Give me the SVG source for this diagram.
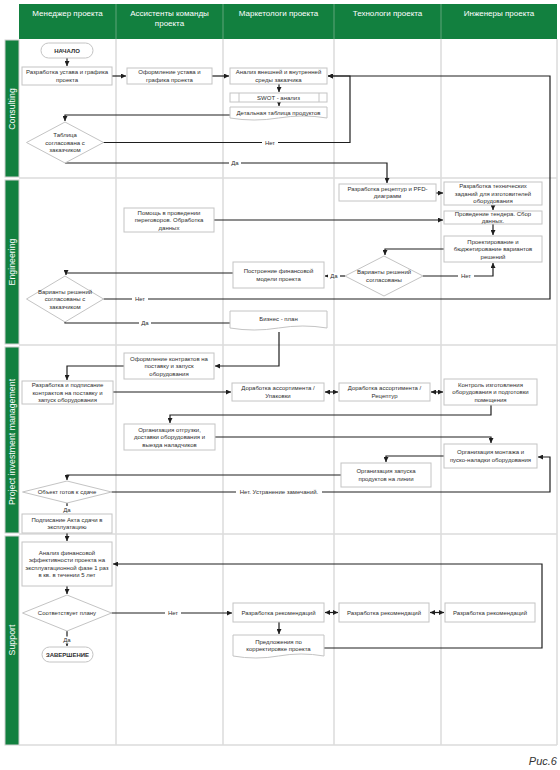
<svg xmlns="http://www.w3.org/2000/svg" width="560" height="770" viewBox="0 0 560 770">
<style>
.bg{fill:#fff}
.hdr{fill:#12803f}
.ht{font-family:"Liberation Sans",Arial,sans-serif;font-size:8px;fill:#fff;text-anchor:middle}
.lane{fill:#12803f;stroke:#d0d0d0;stroke-width:1}
.lt{font-family:"Liberation Sans",Arial,sans-serif;font-size:8.8px;fill:#fff;text-anchor:middle}
.grid{stroke:#dcdcdc;stroke-width:1.5;fill:none}
.box{fill:#fff;stroke:#c4c4c4;stroke-width:1}
.t{font-family:"Liberation Sans",Arial,sans-serif;font-size:6px;fill:#2e2e2e;text-anchor:middle}
.tb{font-weight:bold}
.c{fill:none;stroke:#1e1e1e;stroke-width:1.2;marker-end:url(#a)}
.cn{fill:none;stroke:#1e1e1e;stroke-width:1.2}
.cd{fill:none;stroke:#1e1e1e;stroke-width:1.2;marker-end:url(#a);marker-start:url(#a)}
.lb{fill:#fff}
.l{font-family:"Liberation Sans",Arial,sans-serif;font-size:6px;fill:#2e2e2e;text-anchor:middle}
</style>
<defs>
<marker id="a" viewBox="0 0 6 6" refX="6" refY="3" markerWidth="5" markerHeight="5" markerUnits="userSpaceOnUse" orient="auto-start-reverse"><path d="M0,0 L6,3 L0,6 z" fill="#1e1e1e"/></marker>
</defs>
<rect class="bg" x="0" y="0" width="560" height="770"/>

<g id="header">
<rect class="hdr" x="19" y="4" width="538" height="35"/>
<g stroke="#5fa47a" stroke-width="1"><line x1="116" y1="4" x2="116" y2="39"/><line x1="223" y1="4" x2="223" y2="39"/><line x1="334" y1="4" x2="334" y2="39"/><line x1="441" y1="4" x2="441" y2="39"/></g>
<text class="ht" x="67.5" y="16">Менеджер проекта</text>
<text class="ht" x="169.5" y="16">Ассистенты команды</text>
<text class="ht" x="169.5" y="26">проекта</text>
<text class="ht" x="278.5" y="16">Маркетологи проекта</text>
<text class="ht" x="387.5" y="16">Технологи проекта</text>
<text class="ht" x="499" y="16">Инженеры проекта</text>
</g>

<g id="lanes">
<rect class="lane" x="5" y="40" width="14" height="137"/>
<rect class="lane" x="5" y="180" width="14" height="164"/>
<rect class="lane" x="5" y="347" width="14" height="186"/>
<rect class="lane" x="5" y="536" width="14" height="209"/>
<text class="lt" transform="translate(15,109) rotate(-90)">Consulting</text>
<text class="lt" transform="translate(15,262) rotate(-90)">Engineering</text>
<text class="lt" transform="translate(15,442) rotate(-90)">Project investment management</text>
<text class="lt" transform="translate(15,640) rotate(-90)">Support</text>
<path class="grid" d="M116,39V745M223,39V745M334,39V745M441,39V745M557,39V745M19,178H557M19,345H557M19,534H557M19,745H557"/>
</g>

<g id="connectors">
<path class="c" d="M67,58V66"/>
<path class="c" d="M112,76H126"/>
<path class="c" d="M212,76H229"/>
<path class="c" d="M279,84V92"/>
<path class="c" d="M279,102V106"/>
<path class="c" d="M230,115H65V121"/>
<path class="c" d="M103,142.5H350V76H328"/>
<path class="c" d="M65,163H387V183"/>
<path class="c" d="M436,193H443"/>
<path class="c" d="M493,205V210"/>
<path class="c" d="M493,224V235"/>
<path class="c" d="M214,220H443"/>
<path class="c" d="M444,249H385V255"/>
<path class="c" d="M423,276H493V263"/>
<path class="c" d="M345,276H325"/>
<path class="c" d="M233,273H66V275"/>
<path class="c" d="M103.5,299H550V76H328"/>
<path class="cn" d="M65,322V323H230"/>
<path class="c" d="M279,332V366H215"/>
<path class="c" d="M124,366H67V380"/>
<path class="c" d="M113,392H231"/>
<path class="cd" d="M325,392H338"/>
<path class="cd" d="M431,392H443"/>
<path class="c" d="M491,405V415H170V423"/>
<path class="c" d="M215,437H491V443"/>
<path class="c" d="M444,456H386V462"/>
<path class="c" d="M341,475H67V480"/>
<path class="c" d="M111.5,492H550V457H538"/>
<path class="c" d="M67,503V513"/>
<path class="c" d="M67,533V541"/>
<path class="c" d="M67,586V594"/>
<path class="c" d="M111.5,613H232"/>
<path class="cd" d="M325,612.5H338"/>
<path class="cd" d="M430,612.5H444"/>
<path class="c" d="M279,622V634"/>
<path class="c" d="M324,648H542V564H113"/>
<path class="c" d="M67,631V646"/>
<rect class="lb" x="262" y="139" width="16" height="7"/><text class="l" x="270" y="144.5">Нет</text>
<rect class="lb" x="229" y="159.5" width="12" height="7"/><text class="l" x="235" y="165">Да</text>
<rect class="lb" x="132" y="295.5" width="16" height="7"/><text class="l" x="140" y="301">Нет</text>
<rect class="lb" x="139" y="319.5" width="12" height="7"/><text class="l" x="145" y="325">Да</text>
<rect class="lb" x="328" y="272.5" width="12" height="7"/><text class="l" x="334" y="278">Да</text>
<rect class="lb" x="458" y="272.5" width="16" height="7"/><text class="l" x="466" y="278">Нет</text>
<rect class="lb" x="236" y="488.5" width="86" height="7"/><text class="l" x="279" y="494">Нет. Устранение замечаний.</text>
<rect class="lb" x="61" y="506" width="12" height="7"/><text class="l" x="67" y="511.5">Да</text>
<rect class="lb" x="165" y="609.5" width="16" height="7"/><text class="l" x="173" y="615">Нет</text>
<rect class="lb" x="61" y="636.5" width="12" height="7"/><text class="l" x="67" y="642">Да</text>
</g>

<g id="start"><rect class="box" x="41" y="43" width="52" height="15" rx="7.5"/><text class="t tb" x="67" y="52.8">НАЧАЛО</text></g>
<g id="ustav"><rect class="box" x="22" y="67" width="90" height="18"/><text class="t" x="67" y="74.3">Разработка устава и графика</text><text class="t" x="67" y="81.8">проекта</text></g>
<g id="oform"><rect class="box" x="127" y="68" width="85" height="16"/><text class="t" x="169.5" y="74.3">Оформление устава и</text><text class="t" x="169.5" y="81.8">графика проекта</text></g>
<g id="analiz"><rect class="box" x="230" y="68" width="97" height="16"/><text class="t" x="278.5" y="74.3">Анализ внешней и внутренней</text><text class="t" x="278.5" y="81.8">среды заказчика</text></g>
<g id="swot"><rect class="box" x="230" y="93" width="97" height="9"/><path class="box" d="M239,93V102M319,93V102"/><text class="t" x="278.5" y="99.7">SWOT - анализ</text></g>
<g id="detal"><path class="box" d="M230,107H327V118Q303,114 278.5,118Q254,122 230,118Z"/><text class="t" x="278.5" y="114.5">Детальная таблица продуктов</text></g>
<g id="tabl"><path class="box" d="M65,122L103.5,142.5L65,163L26.5,142.5Z"/><text class="t" x="65" y="137">Таблица</text><text class="t" x="65" y="144.5">согласована с</text><text class="t" x="65" y="152">заказчиком</text></g>

<g id="recept"><rect class="box" x="339" y="184" width="97" height="17"/><text class="t" x="387.5" y="190.8">Разработка рецептур и PFD-</text><text class="t" x="387.5" y="198.3">диаграмм</text></g>
<g id="tz"><rect class="box" x="444" y="182" width="98" height="23"/><text class="t" x="493" y="188">Разработка технических</text><text class="t" x="493" y="195.5">заданий для изготовителей</text><text class="t" x="493" y="203">оборудования</text></g>
<g id="tender"><rect class="box" x="444" y="211" width="98" height="13"/><text class="t" x="493" y="216.2">Проведение тендера. Сбор</text><text class="t" x="493" y="222.8">данных.</text></g>
<g id="proekt"><rect class="box" x="444" y="236" width="98" height="26"/><text class="t" x="493" y="243.5">Проектирование и</text><text class="t" x="493" y="251">бюджетирование вариантов</text><text class="t" x="493" y="258.5">решений</text></g>
<g id="pomosh"><rect class="box" x="124" y="208" width="90" height="24"/><text class="t" x="169" y="214.5">Помощь в проведении</text><text class="t" x="169" y="222">переговоров. Обработка</text><text class="t" x="169" y="229.5">данных</text></g>
<g id="var1"><path class="box" d="M384,256L423,276L384,296L345,276Z"/><text class="t" x="384" y="274.3">Варианты решений</text><text class="t" x="384" y="281.8">согласованы</text></g>
<g id="fin"><rect class="box" x="233" y="262" width="91" height="26"/><text class="t" x="278.5" y="273.3">Построение финансовой</text><text class="t" x="278.5" y="280.8">модели проекта</text></g>
<g id="var2"><path class="box" d="M65,276L103.5,299L65,322L26.5,299Z"/><text class="t" x="65" y="293.5">Варианты решений</text><text class="t" x="65" y="301">согласованы с</text><text class="t" x="65" y="308.5">заказчиком</text></g>
<g id="biz"><path class="box" d="M230,311H327V328Q303,324 278.5,328Q254,332 230,328Z"/><text class="t" x="278.5" y="321">Бизнес - план</text></g>

<g id="kontr"><rect class="box" x="124" y="353" width="90" height="26"/><text class="t" x="169" y="360.5">Оформление контрактов на</text><text class="t" x="169" y="368">поставку и запуск</text><text class="t" x="169" y="375.5">оборудования</text></g>
<g id="podp"><rect class="box" x="22" y="381" width="91" height="23"/><text class="t" x="67.5" y="387">Разработка и подписание</text><text class="t" x="67.5" y="394.5">контрактов на поставку и</text><text class="t" x="67.5" y="402">запуск оборудования</text></g>
<g id="upak"><rect class="box" x="232" y="383" width="92" height="18"/><text class="t" x="278" y="390.3">Доработка ассортимента /</text><text class="t" x="278" y="397.8">Упаковки</text></g>
<g id="recep2"><rect class="box" x="339" y="383" width="91" height="18"/><text class="t" x="384.5" y="390.3">Доработка ассортимента /</text><text class="t" x="384.5" y="397.8">Рецептур</text></g>
<g id="control"><rect class="box" x="444" y="379" width="93" height="26"/><text class="t" x="490.5" y="386.5">Контроль изготовления</text><text class="t" x="490.5" y="394">оборудования и подготовки</text><text class="t" x="490.5" y="401.5">помещения</text></g>
<g id="otgr"><rect class="box" x="124" y="424" width="91" height="26"/><text class="t" x="169.5" y="431.5">Организация отгрузки,</text><text class="t" x="169.5" y="439">доставки оборудования и</text><text class="t" x="169.5" y="446.5">выезда наладчиков</text></g>
<g id="montazh"><rect class="box" x="444" y="444" width="93" height="24"/><text class="t" x="490.5" y="454.3">Организация монтажа и</text><text class="t" x="490.5" y="461.8">пуско-наладки оборудования</text></g>
<g id="zapusk"><rect class="box" x="341" y="463" width="90" height="24"/><text class="t" x="386" y="473.3">Организация запуска</text><text class="t" x="386" y="480.8">продуктов на линии</text></g>
<g id="obj"><path class="box" d="M67,481L111.5,492L67,503L22.5,492Z"/><text class="t" x="67" y="494">Объект готов к сдаче</text></g>
<g id="akt"><rect class="box" x="22" y="514" width="90" height="19"/><text class="t" x="67" y="521.8">Подписание Акта сдачи в</text><text class="t" x="67" y="529.3">эксплуатацию</text></g>

<g id="analfin"><rect class="box" x="22" y="542" width="90" height="44"/><text class="t" x="67" y="554.7">Анализ финансовой</text><text class="t" x="67" y="562.2">эффективности проекта на</text><text class="t" x="67" y="569.7">эксплуатационной фазе 1 раз</text><text class="t" x="67" y="577.2">в кв. в течении 5 лет</text></g>
<g id="plan"><path class="box" d="M67,595L111.5,613L67,631L22.5,613Z"/><text class="t" x="67" y="615">Соответствует плану</text></g>
<g id="end"><rect class="box" x="42" y="647" width="51" height="15" rx="7.5"/><text class="t tb" x="67.5" y="656.8">ЗАВЕРШЕНИЕ</text></g>
<g id="rec1"><rect class="box" x="233" y="603" width="91" height="19"/><text class="t" x="278.5" y="614.5">Разработка рекомендаций</text></g>
<g id="rec2"><rect class="box" x="339" y="603" width="90" height="19"/><text class="t" x="384" y="614.5">Разработка рекомендаций</text></g>
<g id="rec3"><rect class="box" x="445" y="603" width="90" height="19"/><text class="t" x="490" y="614.5">Разработка рекомендаций</text></g>
<g id="pred"><path class="box" d="M233,635H324V656Q301,652 278.5,656Q256,660 233,656Z"/><text class="t" x="278.5" y="643.5">Предложения по</text><text class="t" x="278.5" y="651">корректировке проекта</text></g>

<text x="557" y="765" text-anchor="end" font-family="Liberation Sans,Arial,sans-serif" font-size="11" font-style="italic" fill="#333">Рис.6</text>
</svg>
